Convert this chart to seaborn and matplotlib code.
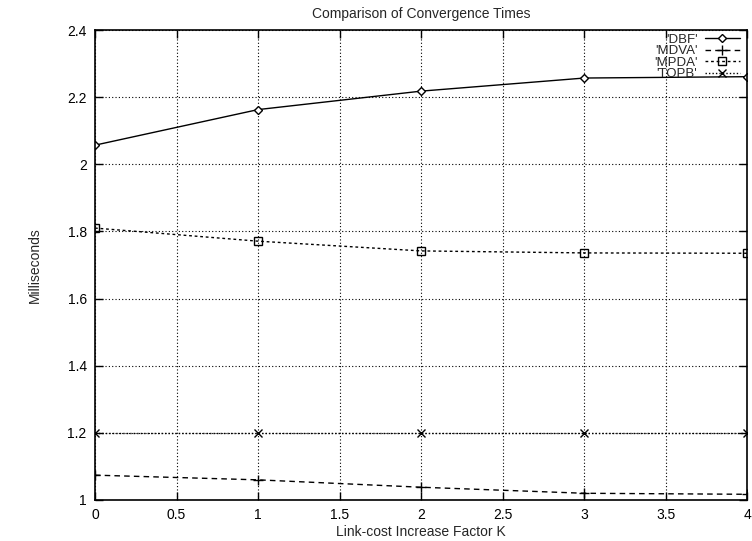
import matplotlib
matplotlib.use('Agg')
import pandas as pd
import matplotlib.pyplot as plt
import seaborn as sns

# valores
factor_k = [0, 1, 2, 3, 4]
dbf = [2.057, 2.163, 2.218, 2.257, 2.261]
mdva = [1.074, 1.060, 1.038, 1.020, 1.017]
mpda = [1.810, 1.771, 1.742, 1.736, 1.735]
topb = [1.200, 1.200, 1.200, 1.200, 1.200]

series = {"'DBF'": dbf, "'MDVA'": mdva, "'MPDA'": mpda, "'TOPB'": topb}
estilos = {
    "'DBF'": dict(marker='D', ls='-', ms=4.5, mfc='white'),
    "'MDVA'": dict(marker='+', ls=(0, (4, 3)), ms=7, mfc='none'),
    "'MPDA'": dict(marker='s', ls=(0, (2, 2)), ms=6, mfc='none'),
    "'TOPB'": dict(marker='x', ls=(0, (1, 1.5)), ms=6, mfc='none'),
}

sns.set_style('ticks')
plt.rcParams['font.family'] = ['Liberation Sans', 'DejaVu Sans']

fig = plt.figure(figsize=(7.52, 5.41), dpi=100)
ax = fig.add_axes([0.1263, 0.0758, 0.8677, 0.8687])

for nombre, valores in series.items():
    df = pd.DataFrame({'k': factor_k, 'ms': valores})
    e = estilos[nombre]
    sns.lineplot(data=df, x='k', y='ms', ax=ax, color='black', lw=1.0,
                 linestyle=e['ls'], marker=e['marker'], markersize=e['ms'],
                 markerfacecolor=e['mfc'], markeredgecolor='black',
                 markeredgewidth=1.0, label=nombre)

ax.set_xlim(0, 4)
ax.set_ylim(1, 2.4)
ax.set_xticks([0, 0.5, 1, 1.5, 2, 2.5, 3, 3.5, 4])
ax.set_xticklabels(['0', '0.5', '1', '1.5', '2', '2.5', '3', '3.5', '4'])
ax.set_yticks([1, 1.2, 1.4, 1.6, 1.8, 2, 2.2, 2.4])
ax.set_yticklabels(['1', '1.2', '1.4', '1.6', '1.8', '2', '2.2', '2.4'])
ax.grid(True, color='black', ls=(0, (1, 2)), lw=0.8)
ax.tick_params(direction='in', top=True, right=True, length=6, width=1,
               labelsize=10, colors='black', pad=6)
for s in ax.spines.values():
    s.set_color('black')
    s.set_linewidth(1.2)

ax.set_title('Comparison of Convergence Times', fontsize=10, pad=9)
ax.set_xlabel('Link-cost Increase Factor K', fontsize=10, labelpad=2)
ax.set_ylabel('Milliseconds', fontsize=10, labelpad=18)

ax.legend(loc='upper right', markerfirst=False, frameon=False, fontsize=9.5,
          handlelength=2.6, handletextpad=0.6, labelspacing=-0.06,
          borderpad=0.1, borderaxespad=0.0, bbox_to_anchor=(0.99, 0.995))

fig.savefig('out.png', dpi=100)
